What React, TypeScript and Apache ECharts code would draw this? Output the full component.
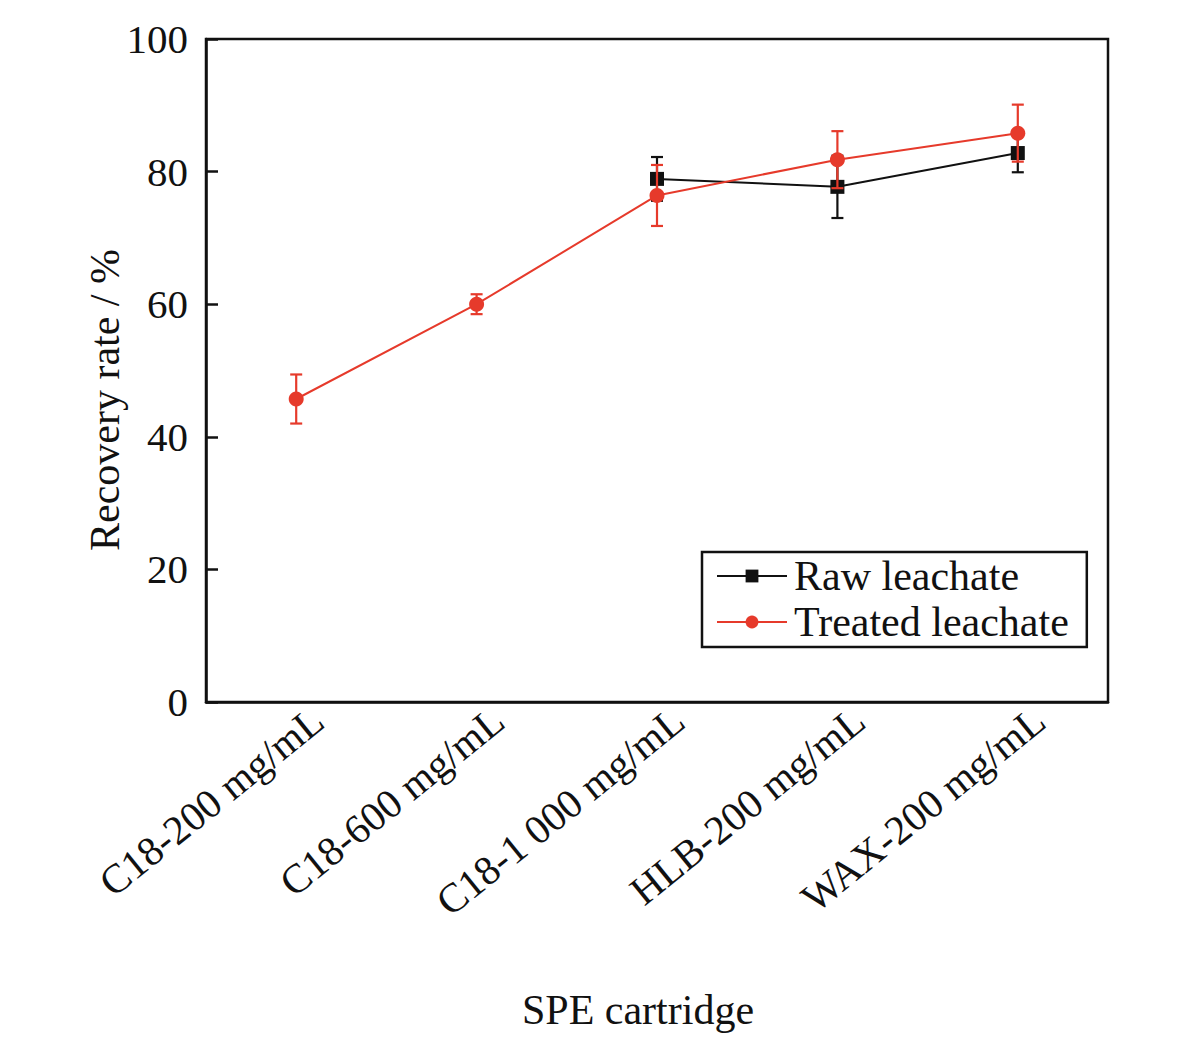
import React, { useEffect, useRef } from "react";
import * as echarts from "echarts";

const categories = ["C18-200 mg/mL", "C18-600 mg/mL", "C18-1 000 mg/mL", "HLB-200 mg/mL", "WAX-200 mg/mL"];
const rawValues: (number | null)[] = [null, null, 78.9, 77.7, 82.8];
const rawErrors: (number | null)[] = [null, null, 3.3, 4.7, 2.9];
const treatedValues = [45.7, 60.0, 76.4, 81.8, 85.8];
const treatedErrors = [3.7, 1.5, 4.6, 4.3, 4.3];
const yTicks = [0, 20, 40, 60, 80, 100];

const RED = "#e63a2b";
const BLACK = "#111111";
const FONT = "'Liberation Serif', 'Times New Roman', serif";

function errorData(vals: (number | null)[], errs: (number | null)[]) {
  const out: any[] = [];
  vals.forEach((v, i) => {
    const e = errs[i];
    if (v != null && e != null) out.push([i, v - e, v + e]);
  });
  return out;
}

function errorSeries(name: string, data: any[], color: string, z: number) {
  return {
    type: "custom",
    name: name + "-err",
    data,
    z,
    silent: true,
    renderItem: (params: any, api: any) => {
      const x = api.value(0);
      const lo = api.coord([x, api.value(1)]);
      const hi = api.coord([x, api.value(2)]);
      const hw = 6;
      const style = { stroke: color, lineWidth: 2.2 };
      return {
        type: "group",
        children: [
          { type: "line", shape: { x1: lo[0], y1: lo[1], x2: hi[0], y2: hi[1] }, style },
          { type: "line", shape: { x1: lo[0] - hw, y1: lo[1], x2: lo[0] + hw, y2: lo[1] }, style },
          { type: "line", shape: { x1: hi[0] - hw, y1: hi[1], x2: hi[0] + hw, y2: hi[1] }, style },
        ],
      };
    },
  };
}

export default function App() {
  const ref = useRef<HTMLDivElement>(null);
  useEffect(() => {
    if (!ref.current) return;
    const chart = echarts.init(ref.current, undefined, { renderer: "svg" });
    chart.setOption({
      animation: false,
      backgroundColor: "#ffffff",
      grid: {
        left: 198,
        top: 31,
        right: 84,
        bottom: 340,
        show: true,
        borderColor: BLACK,
        borderWidth: 2.5,
        backgroundColor: "transparent",
      },
      xAxis: {
        type: "category",
        data: categories,
        boundaryGap: true,
        axisLine: { lineStyle: { color: BLACK, width: 2.5 } },
        axisTick: { inside: true, length: 13, alignWithLabel: true, interval: 0, lineStyle: { color: BLACK, width: 2.5 } },
        axisLabel: {
          rotate: 39,
          interval: 0,
          margin: -14,
          padding: [14, 0, 0, 0],
          verticalAlign: "top",
          color: BLACK,
          fontFamily: FONT,
          fontSize: 41,
        },
        splitLine: { show: false },
      },
      yAxis: {
        type: "value",
        min: yTicks[0],
        max: yTicks[yTicks.length - 1],
        interval: 20,
        axisLine: { show: true, lineStyle: { color: BLACK, width: 2.5 } },
        axisTick: { show: true, inside: true, length: 12, lineStyle: { color: BLACK, width: 2.5 } },
        axisLabel: { color: BLACK, fontFamily: FONT, fontSize: 41, margin: 18 },
        splitLine: { show: false },
      },
      legend: {
        orient: "vertical",
        left: 694,
        top: 544,
        padding: [3, 18, 4, 14],
        itemGap: 4,
        itemWidth: 70,
        itemHeight: 16,
        borderColor: BLACK,
        borderWidth: 2.5,
        backgroundColor: "#ffffff",
        data: ["Raw leachate", "Treated leachate"],
        textStyle: { color: BLACK, fontFamily: FONT, fontSize: 42, padding: [0, 0, 0, 2] },
      },
      graphic: [
        {
          type: "text",
          x: 97,
          y: 392,
          rotation: Math.PI / 2,
          style: {
            text: "Recovery rate / %",
            fill: BLACK,
            font: `42px ${FONT}`,
            align: "center",
            verticalAlign: "middle",
          },
        },
        {
          type: "text",
          x: 630,
          y: 1002,
          style: {
            text: "SPE cartridge",
            fill: BLACK,
            font: `42px ${FONT}`,
            align: "center",
            verticalAlign: "middle",
          },
        },
      ],
      series: [
        errorSeries("Raw leachate", errorData(rawValues, rawErrors), BLACK, 3),
        {
          name: "Raw leachate",
          type: "line",
          data: rawValues,
          symbol: "rect",
          symbolSize: 14,
          itemStyle: { color: BLACK },
          lineStyle: { color: BLACK, width: 2 },
          z: 4,
        },
        errorSeries("Treated leachate", errorData(treatedValues, treatedErrors), RED, 5),
        {
          name: "Treated leachate",
          type: "line",
          data: treatedValues,
          symbol: "circle",
          symbolSize: 15,
          itemStyle: { color: RED },
          lineStyle: { color: RED, width: 2 },
          z: 6,
        },
      ],
    });
    return () => chart.dispose();
  }, []);
  return <div ref={ref} style={{ width: 1184, height: 1034 }} />;
}
